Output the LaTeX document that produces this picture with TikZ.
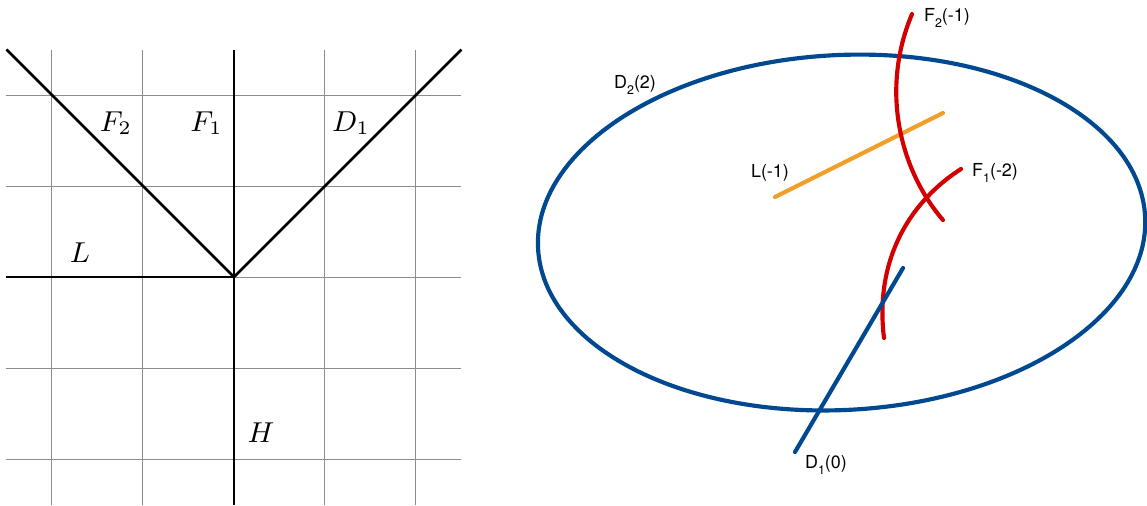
\documentclass[tikz,border=0pt]{standalone}
\usepackage{fontspec}
\newfontfamily\labelfont{TeX Gyre Heros}
\definecolor{curveblue}{RGB}{0,72,144}
\definecolor{curvered}{RGB}{210,0,0}
\definecolor{curveorange}{RGB}{240,160,40}
\newcommand{\lowsub}[1]{\raisebox{-0.55ex}{\fontsize{3.9}{4}\selectfont #1}}
\begin{document}
\begin{tikzpicture}[
    gridline/.style={gray!90, line width=0.3pt},
    fan/.style={black, line width=0.8pt},
    curve/.style={line width=1.3pt, line cap=round},
    lbl/.style={inner sep=0pt, font=\labelfont\fontsize{5.6}{6.5}\selectfont}
]
\useasboundingbox (-2.571,-2.516) rectangle (10.033,3.044);
% left: the fan on the grid
\foreach \i in {-2,...,2} {
    \draw[gridline] (\i,-2.5) -- (\i,2.5);
    \draw[gridline] (-2.5,\i) -- (2.5,\i);
}
\coordinate (O) at (0,0);
\draw[fan] (O) -- (-2.5,0);
\draw[fan] (O) -- (0,-2.5);
\draw[fan] (O) -- (0,2.5);
\draw[fan] (O) -- (-2.5,2.5);
\draw[fan] (O) -- (2.5,2.5);
\node[font=\small] (f2) at (-1.297,1.692) {$F_2$};
\node[font=\small] (f1) at (-0.302,1.692) {$F_1$};
\node[font=\small] (d1) at (1.286,1.692) {$D_1$};
\node[font=\small] (l) at (-1.692,0.264) {$L$};
\node[font=\small] (h) at (0.297,-1.714) {$H$};
% right: the curves on the surface
\draw[curve, curveblue] (6.677,0.489) ellipse[x radius=3.34, y radius=1.95, rotate=3];
\draw[curve, curveorange] (5.945,0.879) -- (7.791,1.802);
\draw[curve, curvered] (7.451,2.890) .. controls (7.099,2.055) and (7.319,1.176) .. (7.791,0.626);
\draw[curve, curvered] (7.989,1.187) .. controls (7.374,0.791) and (7.044,0.132) .. (7.143,-0.670);
\draw[curve, curveblue] (7.352,0.099) -- (6.165,-1.923);
\node[lbl] (d2lbl) at (4.407,2.110) {D\lowsub{2}(2)};
\node[lbl] (f2lbl) at (7.835,2.846) {F\lowsub{2}(-1)};
\node[lbl] (llbl) at (5.890,1.143) {L(-1)};
\node[lbl] (f1lbl) at (8.363,1.143) {F\lowsub{1}(-2)};
\node[lbl] (d1lbl) at (6.505,-2.066) {D\lowsub{1}(0)};
\end{tikzpicture}
\end{document}
